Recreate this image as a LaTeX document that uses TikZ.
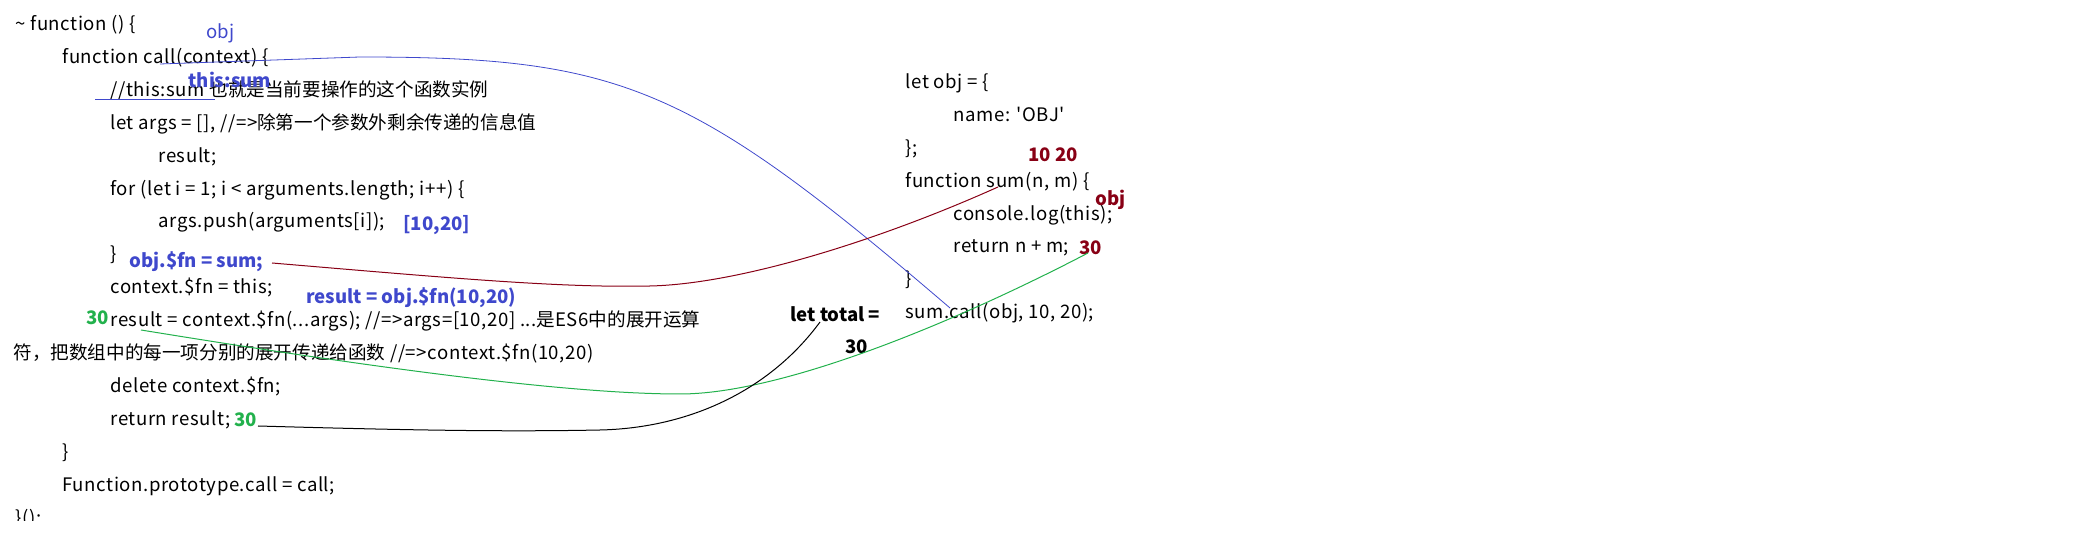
\documentclass[tikz,border=0pt]{standalone}
\usepackage{fontspec}
\newfontfamily\codefont{Noto Sans CJK SC}[LetterSpace=3]
\newfontfamily\cjkfont{Noto Sans CJK SC}
\newcommand\cjk[1]{{\cjkfont #1}}
\usepackage{xcolor}
\definecolor{colorNote}{HTML}{3F48CC}
\definecolor{colorResult}{HTML}{22B14C}
\definecolor{colorArgs}{HTML}{880015}
\colorlet{colorLine}{colorNote}
\usepackage{tikz}

\begin{document}
\begin{tikzpicture}[x=0.5pt, y=-0.5pt, line width=0.5pt,
  code/.style={anchor=base west, inner sep=0pt, font=\codefont\fontsize{9.3}{11}\selectfont},
  note/.style={anchor=base west, inner sep=0pt, font=\cjkfont\bfseries\fontsize{9.3}{11}\selectfont}]
\useasboundingbox (0,0) rectangle (2100,544);
% left column: call()
\node[code] (l0) at (15,30.6) {\textasciitilde\ function () \{};
\node[code] (l1) at (62,63.5) {function call(context) \{};
\node[code] (l2) at (110,96.4) {//this:sum \cjk{也就是当前要操作的这个函数实例}};
\node[code] (l3) at (110,129.3) {let args = [], //=>\cjk{除第一个参数外剩余传递的信息值}};
\node[code] (l4) at (158,162.2) {result;};
\node[code] (l5) at (110,195.1) {for (let i = 1; i < arguments.length; i++) \{};
\node[code] (l6) at (158,228) {args.push(arguments[i]);};
\node[code] (l7) at (110,260.9) {\}};
\node[code] (l8) at (110,293.8) {context.\$fn = this;};
\node[code] (l9) at (110,326.7) {result = context.\$fn(...args); //=>args=[10,20] ...\cjk{是}ES6\cjk{中的展开运算}};
\node[code] (l10) at (13,359.6) {\cjk{符，把数组中的每一项分别的展开传递给函数} //=>context.\$fn(10,20)};
\node[code] (l11) at (110,392.5) {delete context.\$fn;};
\node[code] (l12) at (110,425.4) {return result;};
\node[code] (l13) at (62,458.3) {\}};
\node[code] (l14) at (62,491.2) {Function.prototype.call = call;};
\begin{scope}
\clip (0,0) rectangle (2100,521);
\node[code] (l15) at (15,524.1) {\}();};
\end{scope}
% right column: obj and sum
\node[code] (r0) at (905,88.5) {let obj = \{};
\node[code] (r1) at (953,121.4) {name: 'OBJ'};
\node[code] (r2) at (905,154.3) {\};};
\node[code] (r3) at (905,187.2) {function sum(n, m) \{};
\node[code] (r4) at (953,220.1) {console.log(this);};
\node[code] (r5) at (953,253) {return n + m;};
\node[code] (r6) at (905,285.9) {\}};
\node[code] (r7) at (905,318.8) {sum.call(obj, 10, 20);};
% notes
\node[note, font=\cjkfont\fontsize{9.3}{11}\selectfont, text=colorNote] (nObj) at (206,39) {obj};
\node[note, text=colorNote] (nThis) at (188,88) {this:sum};
\node[note, text=colorNote] (nArr) at (403,231) {[10,20]};
\node[note, text=colorNote] (nFn) at (129,268) {obj.\$fn = sum;};
\node[note, text=colorNote] (nRes) at (306,304) {result = obj.\$fn(10,20)};
\node[note, text=colorResult] (nRes30) at (86,324.5) {30};
\node[note, text=colorResult] (nRet30) at (234,426.5) {30};
\node[note] (nTotal) at (790,321.5) {let total =};
\node[note] (nTotal30) at (845,353.5) {30};
\node[note, text=colorArgs] (nArgs) at (1028,161.5) {10 20};
\node[note, text=colorArgs] (nThisObj) at (1095,206) {obj};
\node[note, text=colorArgs] (nSum30) at (1079,254.5) {30};
% connectors
\coordinate (uA) at (95,100);
\coordinate (uB) at (215,100);
\coordinate (callA) at (160,64);
\coordinate (callB) at (950,308);
\coordinate (fnA) at (272,263);
\coordinate (fnB) at (998,187);
\coordinate (resA) at (141,330);
\coordinate (resB) at (1088,253);
\coordinate (retA) at (258,426);
\coordinate (retB) at (820,322);
\draw [colorLine] (uA) -- (uB);
\draw [colorLine, line width=0.4pt] (callA) -- (360,57) .. controls (620,57) and (690,85) .. (callB);
\draw [colorArgs] (fnA) .. controls (450,278) and (560,288) .. (650,286) .. controls (740,284) and (880,240) .. (fnB);
\draw [colorResult] (resA) .. controls (350,364) and (560,394) .. (680,394) .. controls (780,394) and (950,325) .. (resB);
\draw [black] (retA) .. controls (400,430) and (500,432) .. (600,430) .. controls (690,428) and (770,390) .. (retB);
\end{tikzpicture}
\end{document}
